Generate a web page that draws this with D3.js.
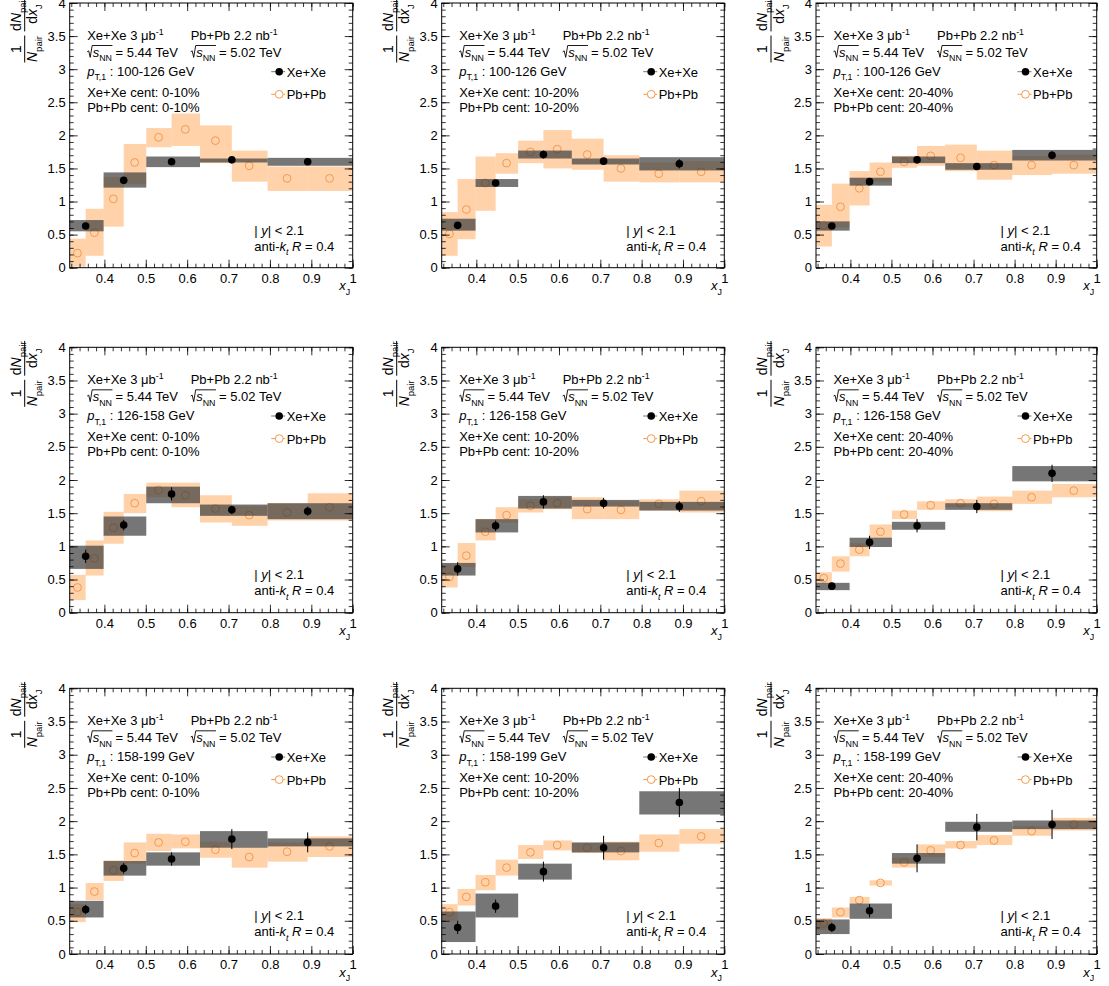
<!DOCTYPE html>
<html><head><meta charset="utf-8">
<script src="https://cdn.jsdelivr.net/npm/d3@7"></script>
<style>
html,body{margin:0;padding:0;background:#fff;}
svg text{font-family:"Liberation Sans",Arial,Helvetica,sans-serif;white-space:pre;fill:#000;}
</style></head><body>
<svg id="chart" width="1109" height="986"></svg>
<script>
// x_J binning (log-spaced); Xe+Xe uses every second edge
const pbEdges = [0.3162, 0.3548, 0.3981, 0.4467, 0.5012, 0.5623, 0.6310, 0.7079, 0.7943, 0.8913, 1.0];
const xeEdges = [0.3162, 0.3981, 0.5012, 0.6310, 0.7943, 1.0];

const ptRanges = ["100-126", "126-158", "158-199"];
const centralities = ["0-10%", "10-20%", "20-40%"];
const xTickValues = [0.4, 0.5, 0.6, 0.7, 0.8, 0.9, 1.0];
const yTickValues = [0, 0.5, 1, 1.5, 2, 2.5, 3, 3.5, 4];

// Xe+Xe: one row per panel (pT bin major, centrality minor)
const xeValue = [
  [0.63, 1.32, 1.60, 1.63, 1.60],
  [0.64, 1.28, 1.71, 1.61, 1.57],
  [0.63, 1.30, 1.63, 1.53, 1.70],
  [0.85, 1.32, 1.79, 1.55, 1.53],
  [0.66, 1.31, 1.67, 1.65, 1.60],
  [0.40, 1.06, 1.31, 1.60, 2.10],
  [0.67, 1.29, 1.43, 1.73, 1.68],
  [0.40, 0.72, 1.24, 1.60, 2.28],
  [0.40, 0.65, 1.44, 1.91, 1.95]
];
const xeStat = [
  [0.04, 0.04, 0.04, 0.04, 0.04],
  [0.04, 0.04, 0.06, 0.04, 0.07],
  [0.03, 0.04, 0.05, 0.04, 0.06],
  [0.10, 0.08, 0.10, 0.06, 0.07],
  [0.10, 0.08, 0.10, 0.08, 0.08],
  [0.05, 0.10, 0.10, 0.10, 0.13],
  [0.07, 0.08, 0.10, 0.15, 0.15],
  [0.10, 0.10, 0.15, 0.18, 0.22],
  [0.07, 0.10, 0.21, 0.20, 0.22]
];
const xeSysLow = [
  [0.55, 1.21, 1.52, 1.59, 1.54],
  [0.56, 1.22, 1.65, 1.56, 1.47],
  [0.56, 1.24, 1.58, 1.48, 1.62],
  [0.66, 1.16, 1.65, 1.46, 1.41],
  [0.56, 1.21, 1.57, 1.60, 1.54],
  [0.34, 0.99, 1.25, 1.55, 1.98],
  [0.55, 1.18, 1.33, 1.60, 1.62],
  [0.18, 0.55, 1.12, 1.53, 2.10],
  [0.30, 0.53, 1.36, 1.84, 1.88]
];
const xeSysHigh = [
  [0.72, 1.44, 1.68, 1.65, 1.66],
  [0.74, 1.34, 1.77, 1.65, 1.67],
  [0.70, 1.36, 1.68, 1.58, 1.78],
  [1.01, 1.45, 1.90, 1.63, 1.65],
  [0.75, 1.41, 1.76, 1.70, 1.67],
  [0.45, 1.13, 1.37, 1.65, 2.21],
  [0.80, 1.40, 1.53, 1.85, 1.74],
  [0.64, 0.91, 1.36, 1.68, 2.45],
  [0.52, 0.76, 1.52, 1.99, 2.01]
];

// Pb+Pb reference
const pbValue = [
  [0.22, 0.53, 1.04, 1.59, 1.97, 2.09, 1.92, 1.54, 1.35, 1.35],
  [0.51, 0.88, 1.28, 1.58, 1.75, 1.79, 1.71, 1.50, 1.42, 1.45],
  [0.64, 0.92, 1.20, 1.45, 1.60, 1.69, 1.66, 1.55, 1.55, 1.55],
  [0.38, 0.82, 1.28, 1.65, 1.85, 1.77, 1.57, 1.47, 1.51, 1.59],
  [0.54, 0.86, 1.22, 1.47, 1.61, 1.65, 1.56, 1.55, 1.64, 1.68],
  [0.52, 0.74, 0.95, 1.22, 1.48, 1.62, 1.65, 1.64, 1.74, 1.84],
  [0.63, 0.94, 1.26, 1.52, 1.68, 1.69, 1.57, 1.46, 1.54, 1.62],
  [0.63, 0.86, 1.08, 1.30, 1.53, 1.64, 1.60, 1.55, 1.67, 1.77],
  [0.46, 0.63, 0.81, 1.07, 1.38, 1.56, 1.64, 1.71, 1.85, 1.95]
];
const pbSysLow = [
  [0.015, 0.18, 0.62, 1.26, 1.82, 1.84, 1.58, 1.30, 1.16, 1.16],
  [0.18, 0.43, 0.86, 1.42, 1.58, 1.50, 1.48, 1.30, 1.29, 1.29],
  [0.32, 0.61, 0.94, 1.30, 1.51, 1.54, 1.46, 1.33, 1.40, 1.42],
  [0.19, 0.56, 1.04, 1.50, 1.74, 1.59, 1.36, 1.31, 1.39, 1.39],
  [0.38, 0.69, 1.09, 1.36, 1.51, 1.56, 1.41, 1.41, 1.54, 1.51],
  [0.44, 0.62, 0.85, 1.12, 1.41, 1.55, 1.59, 1.53, 1.64, 1.74],
  [0.48, 0.81, 1.10, 1.36, 1.55, 1.59, 1.45, 1.30, 1.39, 1.46],
  [0.50, 0.73, 0.96, 1.18, 1.43, 1.56, 1.52, 1.41, 1.54, 1.66],
  [0.36, 0.55, 0.76, 1.03, 1.30, 1.46, 1.59, 1.64, 1.78, 1.86]
];
const pbSysHigh = [
  [0.44, 0.89, 1.37, 1.87, 2.11, 2.33, 2.15, 1.77, 1.53, 1.53],
  [0.84, 1.34, 1.68, 1.73, 1.92, 2.08, 1.95, 1.70, 1.59, 1.61],
  [0.95, 1.27, 1.46, 1.59, 1.69, 1.84, 1.86, 1.77, 1.69, 1.71],
  [0.57, 1.09, 1.52, 1.79, 1.96, 1.96, 1.77, 1.61, 1.65, 1.80],
  [0.73, 1.05, 1.41, 1.59, 1.71, 1.74, 1.74, 1.68, 1.71, 1.84],
  [0.61, 0.85, 1.05, 1.33, 1.54, 1.68, 1.71, 1.75, 1.84, 1.94],
  [0.75, 1.07, 1.41, 1.68, 1.81, 1.80, 1.69, 1.61, 1.68, 1.77],
  [0.75, 0.98, 1.19, 1.42, 1.64, 1.71, 1.67, 1.69, 1.80, 1.88],
  [0.54, 0.70, 0.86, 1.11, 1.45, 1.65, 1.70, 1.79, 1.93, 2.05]
];

// ---- layout ----
const colLeft = [69.7, 441.7, 816];
const colRight = [352.7, 724.3, 1096.7];
const rowTop = [3, 347.3, 688.3];
const rowBottom = [267.7, 612.7, 954];
const FS = 13;
const pbFill = "rgb(255,155,66)";
const pbLine = "#f29a50";
const xeFill = "rgb(60,60,60)";

const svg = d3.select("#chart");

// lay out a run of text pieces (italic / sub / sup / radical) starting at x=0, baseline y=0
function rich(parent, pieces, fs) {
  const g = parent.append("g");
  let cx = 0;
  const spans = [];
  let radStart = null, radCount = 0;
  for (const p of pieces) {
    if (p.rad) { radStart = cx; radCount = p.rad; cx += 5.5; continue; }
    const small = p.sub || p.sup;
    const size = small ? fs * 0.68 : fs;
    const dy = p.sub ? fs * 0.36 : (p.sup ? -fs * 0.42 : 0);
    const t = g.append("text").attr("x", cx).attr("y", dy)
      .attr("font-size", size)
      .attr("font-style", p.it ? "italic" : null)
      .text(p.t);
    const w = t.node().getComputedTextLength();
    spans.push([cx, cx + w]);
    cx += w + (p.pad || 0);
    if (radStart !== null) {
      radCount--;
      if (radCount === 0) {
        const top = -fs * 0.86;
        g.append("path")
          .attr("d", `M${radStart},${-fs*0.38} L${radStart+1.5},${-fs*0.45} L${radStart+3},${fs*0.05} L${radStart+5},${top} L${cx+0.5},${top}`)
          .attr("fill", "none").attr("stroke", "#000").attr("stroke-width", 0.9);
        radStart = null;
      }
    }
  }
  return {g, width: cx};
}

function place(parent, x, y, pieces, fs, anchor) {
  const r = rich(parent, pieces, fs);
  const dx = anchor === "end" ? -r.width : anchor === "middle" ? -r.width / 2 : 0;
  r.g.attr("transform", `translate(${x + dx},${y})`);
  return r;
}

const fmtX = d => (Math.abs(d - 1) < 1e-9 ? "1" : d.toFixed(1));
const fmtY = d => (d % 1 === 0 ? String(d) : d.toFixed(1));

for (let r = 0; r < 3; r++) {
  for (let c = 0; c < 3; c++) {
    const idx = r * 3 + c;
    const L = colLeft[c], R = colRight[c], T = rowTop[r], B = rowBottom[r];
    const x = d3.scaleLinear().domain([pbEdges[0], 1.0]).range([L, R]);
    const y = d3.scaleLinear().domain([0, 4]).range([B, T]);
    const panel = svg.append("g");

    // Pb+Pb systematic boxes
    const pbBins = d3.range(pbValue[idx].length);
    panel.append("g").selectAll("rect").data(pbBins).join("rect")
      .attr("x", i => x(pbEdges[i]))
      .attr("width", i => x(pbEdges[i + 1]) - x(pbEdges[i]))
      .attr("y", i => y(pbSysHigh[idx][i]))
      .attr("height", i => y(pbSysLow[idx][i]) - y(pbSysHigh[idx][i]))
      .attr("fill", pbFill).attr("fill-opacity", 0.45);

    // Pb+Pb markers (open circles at log-centre of each bin)
    panel.append("g").selectAll("circle").data(pbBins).join("circle")
      .attr("cx", i => x(Math.sqrt(pbEdges[i] * pbEdges[i + 1])))
      .attr("cy", i => y(pbValue[idx][i]))
      .attr("r", 3.9)
      .attr("fill", "none").attr("stroke", pbLine).attr("stroke-width", 1);

    // Xe+Xe systematic boxes
    const xeBins = d3.range(xeValue[idx].length);
    panel.append("g").selectAll("rect").data(xeBins).join("rect")
      .attr("x", i => x(xeEdges[i]))
      .attr("width", i => x(xeEdges[i + 1]) - x(xeEdges[i]))
      .attr("y", i => y(xeSysHigh[idx][i]))
      .attr("height", i => y(xeSysLow[idx][i]) - y(xeSysHigh[idx][i]))
      .attr("fill", xeFill).attr("fill-opacity", 0.7);

    // Xe+Xe statistical errors and markers
    const xc = i => x(Math.sqrt(xeEdges[i] * xeEdges[i + 1]));
    panel.append("g").selectAll("line").data(xeBins).join("line")
      .attr("x1", xc).attr("x2", xc)
      .attr("y1", i => y(xeValue[idx][i] - xeStat[idx][i]))
      .attr("y2", i => y(xeValue[idx][i] + xeStat[idx][i]))
      .attr("stroke", "#000").attr("stroke-width", 1);
    panel.append("g").selectAll("circle").data(xeBins).join("circle")
      .attr("cx", xc)
      .attr("cy", i => y(xeValue[idx][i]))
      .attr("r", 3.8).attr("fill", "#000");

    // axes: ticks drawn inward on all four sides
    const xMinor = d3.range(0.32, 1.0001, 0.02);
    const yMinor = d3.range(0, 4.0001, 0.1);
    const styleAxis = g => {
      g.select(".domain").remove();
      g.selectAll("line").attr("stroke", "#000").attr("stroke-width", 0.8);
      g.selectAll("text").attr("font-size", FS).attr("fill", "#000");
    };
    panel.append("g").attr("transform", `translate(0,${B})`)
      .call(d3.axisBottom(x).tickValues(xMinor).tickSize(-4).tickFormat("")).call(styleAxis);
    panel.append("g").attr("transform", `translate(0,${B})`)
      .call(d3.axisBottom(x).tickValues(xTickValues).tickSize(-8).tickPadding(6).tickFormat(fmtX)).call(styleAxis);
    panel.append("g").attr("transform", `translate(0,${T})`)
      .call(d3.axisTop(x).tickValues(xMinor).tickSize(-4).tickFormat("")).call(styleAxis);
    panel.append("g").attr("transform", `translate(0,${T})`)
      .call(d3.axisTop(x).tickValues(xTickValues).tickSize(-8).tickFormat("")).call(styleAxis);
    panel.append("g").attr("transform", `translate(${L},0)`)
      .call(d3.axisLeft(y).tickValues(yMinor).tickSize(-4).tickFormat("")).call(styleAxis);
    panel.append("g").attr("transform", `translate(${L},0)`)
      .call(d3.axisLeft(y).tickValues(yTickValues).tickSize(-8).tickPadding(4).tickFormat(fmtY)).call(styleAxis);
    panel.append("g").attr("transform", `translate(${R},0)`)
      .call(d3.axisRight(y).tickValues(yMinor).tickSize(-4).tickFormat("")).call(styleAxis);
    panel.append("g").attr("transform", `translate(${R},0)`)
      .call(d3.axisRight(y).tickValues(yTickValues).tickSize(-8).tickFormat("")).call(styleAxis);

    panel.append("rect").attr("x", L).attr("y", T).attr("width", R - L).attr("height", B - T)
      .attr("fill", "none").attr("stroke", "#000").attr("stroke-width", 1);

    // annotation block
    const tx = L + 17.5, tx2 = L + 121;
    place(panel, tx, T + 37, [{t: "Xe+Xe 3 μb"}, {t: "-1", sup: true}], FS);
    place(panel, tx2, T + 37, [{t: "Pb+Pb 2.2 nb"}, {t: "-1", sup: true}], FS);
    const sq = e => [{rad: 2}, {t: "s", it: true}, {t: "NN", sub: true}, {t: " = " + e + " TeV"}];
    place(panel, tx, T + 53.7, sq("5.44"), FS);
    place(panel, tx2, T + 53.7, sq("5.02"), FS);
    place(panel, tx, T + 72.7, [{t: "p", it: true}, {t: "T,1", sub: true}, {t: " : " + ptRanges[r] + " GeV"}], FS);
    place(panel, tx, T + 93.7, [{t: "Xe+Xe cent: " + centralities[c]}], FS);
    place(panel, tx, T + 108.5, [{t: "Pb+Pb cent: " + centralities[c]}], FS);

    // legend
    const lx = L + 209.5;
    panel.append("line").attr("x1", lx - 8).attr("x2", lx + 6).attr("y1", T + 68.7).attr("y2", T + 68.7)
      .attr("stroke", "#777").attr("stroke-width", 1);
    panel.append("circle").attr("cx", lx).attr("cy", T + 68.7).attr("r", 3.8).attr("fill", "#000");
    place(panel, L + 217, T + 73.7, [{t: "Xe+Xe"}], FS);
    panel.append("line").attr("x1", lx - 8).attr("x2", lx + 6).attr("y1", T + 91.3).attr("y2", T + 91.3)
      .attr("stroke", pbLine).attr("stroke-width", 1);
    panel.append("circle").attr("cx", lx).attr("cy", T + 91.3).attr("r", 3.9)
      .attr("fill", "#fff").attr("stroke", pbLine).attr("stroke-width", 1);
    place(panel, L + 217, T + 96.3, [{t: "Pb+Pb"}], FS);

    // selection labels
    place(panel, L + 184.5, T + 232, [{t: "| "}, {t: "y", it: true}, {t: "| < 2.1"}], FS);
    place(panel, L + 184.5, T + 247.7,
      [{t: "anti-"}, {t: "k", it: true}, {t: "t", it: true, sub: true}, {t: " "}, {t: "R", it: true}, {t: " = 0.4"}], FS);

    // x-axis title
    place(panel, R - 2.5, B + 22.5, [{t: "x", it: true}, {t: "J", sub: true}], FS, "end");

    // y-axis title: (1/N_pair) (dN_pair/dx_J), rotated
    const yt = panel.append("g").attr("transform", `translate(${L - 45.5},${T}) rotate(-90)`);
    const fraction = (cx, num, den) => {
      const n = rich(yt, num, 14);
      const d = rich(yt, den, 14);
      n.g.attr("transform", `translate(${cx - n.width / 2},-3.5)`);
      d.g.attr("transform", `translate(${cx - d.width / 2},13)`);
      const w = Math.max(n.width, d.width) + 1;
      yt.append("line").attr("x1", cx - w / 2).attr("x2", cx + w / 2).attr("y1", 0.5).attr("y2", 0.5)
        .attr("stroke", "#000").attr("stroke-width", 1);
    };
    fraction(-46, [{t: "1"}], [{t: "N", it: true}, {t: "pair", sub: true}]);
    fraction(-11, [{t: "d"}, {t: "N", it: true}, {t: "pair", sub: true}],
      [{t: "d"}, {t: "x", it: true}, {t: "J", sub: true}]);
  }
}
</script></body></html>
